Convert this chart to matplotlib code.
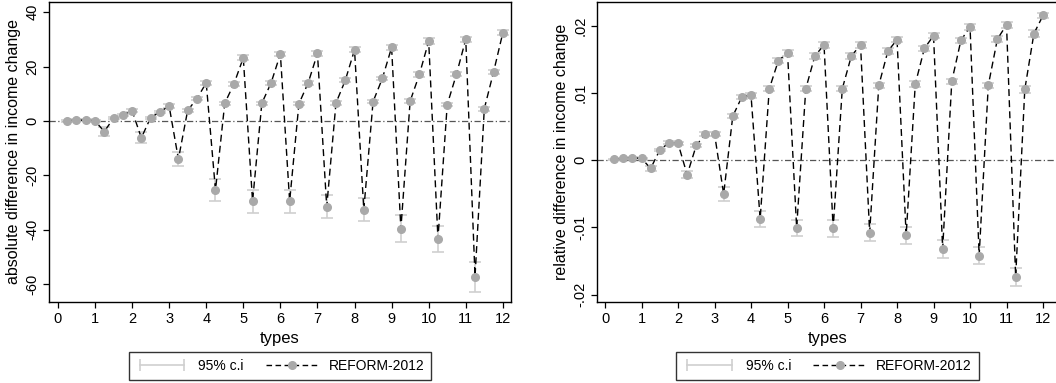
import matplotlib
matplotlib.use("Agg")
import matplotlib.pyplot as plt
from matplotlib.lines import Line2D
from matplotlib.legend_handler import HandlerLine2D

plt.rcParams['font.family'] = ['Liberation Sans', 'DejaVu Sans']

types = [0.25, 0.5, 0.75, 1.0, 1.25, 1.5, 1.75, 2.0, 2.25, 2.5, 2.75, 3.0,
         3.25, 3.5, 3.75, 4.0, 4.25, 4.5, 4.75, 5.0, 5.25, 5.5, 5.75, 6.0,
         6.25, 6.5, 6.75, 7.0, 7.25, 7.5, 7.75, 8.0, 8.25, 8.5, 8.75, 9.0,
         9.25, 9.5, 9.75, 10.0, 10.25, 10.5, 10.75, 11.0, 11.25, 11.5, 11.75, 12.0]

abs_diff = [0.1, 0.3, 0.3, 0.1, -3.9, 1.0, 2.2, 3.8,
            -6.2, 1.2, 3.3, 5.5, -14.0, 3.9, 8.2, 14.0,
            -25.4, 6.5, 13.7, 23.2, -29.5, 6.5, 14.0, 24.6,
            -29.5, 6.3, 14.0, 24.8, -31.5, 6.6, 14.9, 26.1,
            -32.6, 7.1, 15.6, 27.0, -39.6, 7.3, 17.1, 29.3,
            -43.3, 6.0, 17.2, 30.0, -57.2, 4.5, 18.0, 32.4]
abs_ci = [0.3, 0.3, 0.3, 0.3, 1.6, 0.4, 0.5, 0.6,
          2.0, 0.4, 0.5, 0.6, 2.6, 0.5, 0.6, 0.8,
          4.0, 0.6, 0.7, 0.9, 4.3, 0.6, 0.7, 0.9,
          4.3, 0.6, 0.7, 0.9, 4.3, 0.6, 0.7, 0.9,
          4.3, 0.6, 0.7, 1.0, 4.9, 0.6, 0.8, 1.0,
          4.9, 0.6, 0.8, 1.0, 5.5, 0.7, 0.8, 1.0]

rel_diff = [0.0001, 0.00025, 0.00035, 0.00025, -0.00124, 0.00149, 0.00257, 0.00248,
            -0.00218, 0.00218, 0.00391, 0.00391, -0.00505, 0.00653, 0.0094, 0.0096,
            -0.00876, 0.0106, 0.0148, 0.0159, -0.01005, 0.0106, 0.0155, 0.0171,
            -0.01015, 0.0106, 0.0155, 0.0171, -0.0108, 0.0111, 0.0162, 0.0179,
            -0.0112, 0.0113, 0.0166, 0.0185, -0.0132, 0.0117, 0.0178, 0.0198,
            -0.0142, 0.0111, 0.0180, 0.0201, -0.0174, 0.0105, 0.0188, 0.0215]
rel_ci = [0.0001, 0.0001, 0.0001, 0.0001, 0.0004, 0.0002, 0.0002, 0.0002,
          0.0005, 0.0002, 0.0003, 0.0003, 0.0010, 0.0003, 0.0003, 0.0003,
          0.0012, 0.0004, 0.0004, 0.0004, 0.0012, 0.0004, 0.0004, 0.0004,
          0.00125, 0.0004, 0.0004, 0.0004, 0.0013, 0.0004, 0.0004, 0.0004,
          0.00128, 0.0004, 0.0004, 0.0004, 0.0013, 0.0004, 0.0004, 0.0004,
          0.0013, 0.0004, 0.0004, 0.0004, 0.00135, 0.0005, 0.0005, 0.0004]

x_ticks = list(range(0, 13))
abs_yticks = [-60, -40, -20, 0, 20, 40]
abs_ylabels = ['-60', '-40', '-20', '0', '20', '40']
rel_yticks = [-0.02, -0.01, 0, 0.01, 0.02]
rel_ylabels = ['-.02', '-.01', '0', '.01', '.02']

MARK = '#a9a9a9'
CI = '#cfcfcf'
W, H = 1056, 383
fig = plt.figure(figsize=(W / 100, H / 100), dpi=100)

def panel(rect, y, ci, yticks, ylabels, ylim, xlim, ylabel, show_right=True):
    ax = fig.add_axes(rect)
    ax.axhline(0, color='#555555', lw=0.9, linestyle=(0, (5, 2, 1, 2)), zorder=1)
    ax.errorbar(types, y, yerr=ci, fmt='none', ecolor=CI, elinewidth=1.2,
                capsize=4, capthick=1.2, zorder=2)
    ax.plot(types, y, color='black', lw=1.0, linestyle=(0, (5, 3)), zorder=3)
    ax.plot(types, y, linestyle='none', marker='o', ms=5.5, mfc=MARK, mec=MARK, zorder=4)
    ax.set_xlim(*xlim)
    ax.set_ylim(*ylim)
    ax.set_xticks(x_ticks)
    ax.set_xticklabels([str(t) for t in x_ticks], fontsize=10.5)
    ax.set_yticks(yticks)
    ax.set_yticklabels(ylabels, fontsize=10.5, rotation=90, va='center')
    ax.tick_params(direction='out', length=4, width=0.9, pad=3)
    for s in ax.spines.values():
        s.set_linewidth(1.0)
    if not show_right:
        ax.spines['right'].set_visible(False)
    ax.set_xlabel('types', fontsize=12, labelpad=4)
    ax.set_ylabel(ylabel, fontsize=11.5, labelpad=3)
    h_ci = Line2D([], [], color=CI, lw=1.2, marker='|', ms=9, mew=1.2)
    h_ln = Line2D([], [], color='black', lw=1.0, linestyle=(0, (4, 2.5)),
                  marker='o', ms=5.5, mfc=MARK, mec=MARK)
    leg = ax.legend([h_ci, h_ln], ['95% c.i', 'REFORM-2012'], ncol=2,
                    loc='center', bbox_to_anchor=(0.5, -0.212),
                    handler_map={h_ci: HandlerLine2D(numpoints=2),
                                 h_ln: HandlerLine2D(numpoints=1)},
                    frameon=True, fancybox=False, edgecolor='black',
                    fontsize=10, handlelength=3.8, handletextpad=0.7,
                    columnspacing=1.6, borderpad=0.5, borderaxespad=0)
    leg.get_frame().set_linewidth(1.0)
    return ax

panel([49 / W, 81 / H, 462 / W, 300 / H], abs_diff, abs_ci, abs_yticks, abs_ylabels,
      (-66.5, 43.7), (-0.24, 12.22), 'absolute difference in income change')
panel([597 / W, 81 / H, 461 / W, 300 / H], rel_diff, rel_ci, rel_yticks, rel_ylabels,
      (-0.0211, 0.0235), (-0.22, 12.41), 'relative difference in income change',
      show_right=False)

fig.savefig('out.png', dpi=100)
